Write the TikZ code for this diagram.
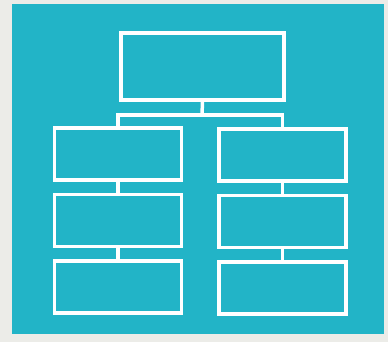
\documentclass[tikz,border=0pt]{standalone}
\usetikzlibrary{positioning}

\definecolor{paper}{RGB}{236,236,232}
\definecolor{teal}{RGB}{34,180,199}

\begin{document}
\begin{tikzpicture}[x=1pt, y=-1pt, node distance=11pt,
			box/.style={draw=white, line width=3.5pt, inner sep=0pt, minimum width=127pt, minimum height=52pt},
			link/.style={draw=white, line width=3.5pt}]
			% paper and panel
			\fill[paper] (0,0) rectangle (388,342);
			\useasboundingbox (0,0) rectangle (388,342);
			\fill[teal] (12,4) rectangle (384,334);
			% boxes
			\node[box, minimum width=163pt, minimum height=67pt] (top) at (202.5,66.5) {};
			\node[box] (l1) at (118,154) {};
			\node[box] (r1) at (282.5,155) {};
			\node[box, below=of l1] (l2) {};
			\node[box, below=of l2] (l3) {};
			\node[box, below=of r1] (r2) {};
			\node[box, below=of r2] (r3) {};
			% connectors
			\coordinate (bar) at (202,115);
			\draw[link] (top.south) -- (bar);
			\draw[link] (l1.north) |- (bar) -| (r1.north);
			\draw[link] (l1) -- (l2); \draw[link] (l2) -- (l3);
			\draw[link] (r1) -- (r2); \draw[link] (r2) -- (r3);
		\end{tikzpicture}
\end{document}
